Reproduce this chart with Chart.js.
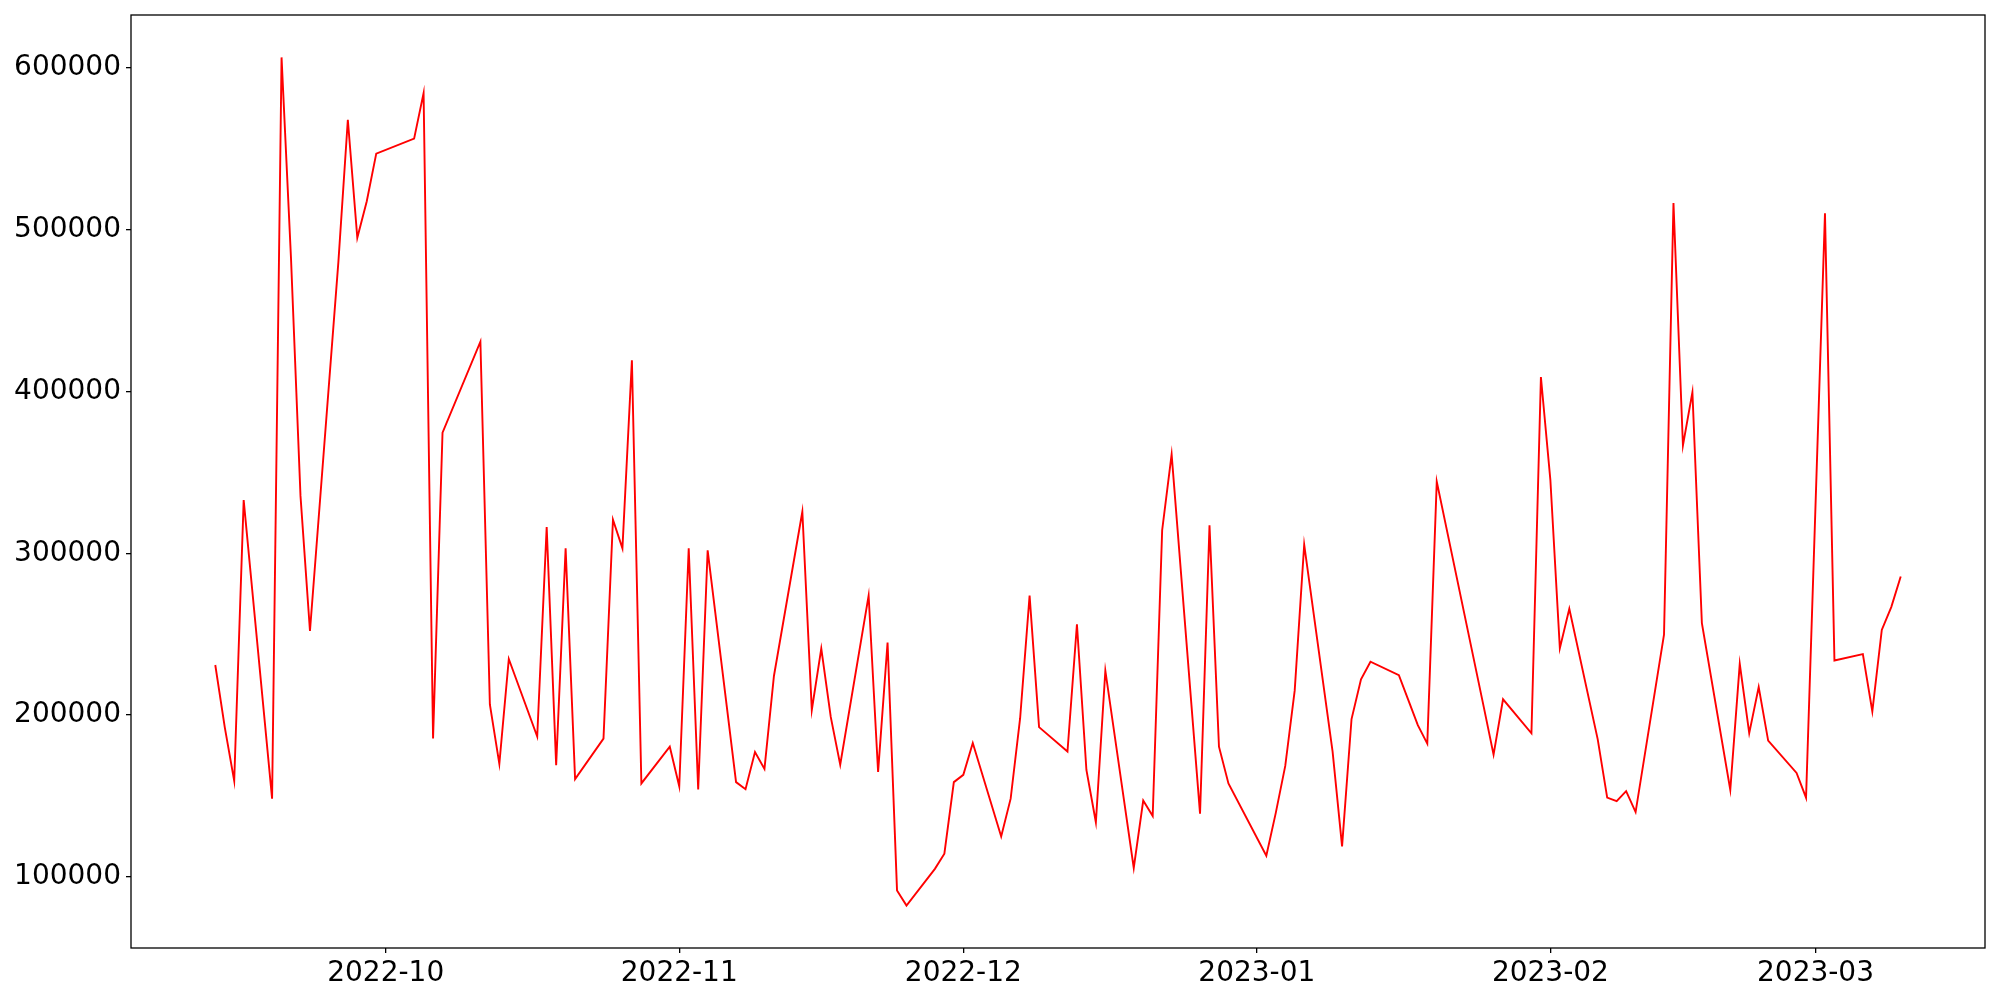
<!DOCTYPE html>
<html>
<head>
<script src="https://cdn.jsdelivr.net/npm/chart.js@4.4.1/dist/chart.umd.min.js"></script>
<style>
  body { margin: 0; background: #fff; }
  .chartBox { width: 2000px; height: 1000px; }
</style>
</head>
<body>
<div class="chartBox">
  <canvas id="myChart" width="2000" height="1000"></canvas>
</div>
<script>
const dates = [
  '2022-09-13','2022-09-14','2022-09-15','2022-09-16','2022-09-19','2022-09-20','2022-09-21','2022-09-22','2022-09-23',
  '2022-09-26','2022-09-27','2022-09-28','2022-09-29','2022-09-30','2022-10-04','2022-10-05','2022-10-06','2022-10-07',
  '2022-10-11','2022-10-12','2022-10-13','2022-10-14','2022-10-17','2022-10-18','2022-10-19','2022-10-20','2022-10-21',
  '2022-10-24','2022-10-25','2022-10-26','2022-10-27','2022-10-28','2022-10-31','2022-11-01','2022-11-02','2022-11-03',
  '2022-11-04','2022-11-07','2022-11-08','2022-11-09','2022-11-10','2022-11-11','2022-11-14','2022-11-15','2022-11-16',
  '2022-11-17','2022-11-18','2022-11-21','2022-11-22','2022-11-23','2022-11-24','2022-11-25','2022-11-28','2022-11-29',
  '2022-11-30','2022-12-01','2022-12-02','2022-12-05','2022-12-06','2022-12-07','2022-12-08','2022-12-09','2022-12-12',
  '2022-12-13','2022-12-14','2022-12-15','2022-12-16','2022-12-19','2022-12-20','2022-12-21','2022-12-22','2022-12-23',
  '2022-12-26','2022-12-27','2022-12-28','2022-12-29','2023-01-02','2023-01-03','2023-01-04','2023-01-05','2023-01-06',
  '2023-01-09','2023-01-10','2023-01-11','2023-01-12','2023-01-13','2023-01-16','2023-01-17','2023-01-18','2023-01-19',
  '2023-01-20','2023-01-25','2023-01-26','2023-01-27','2023-01-30','2023-01-31','2023-02-01','2023-02-02','2023-02-03',
  '2023-02-06','2023-02-07','2023-02-08','2023-02-09','2023-02-10','2023-02-13','2023-02-14','2023-02-15','2023-02-16',
  '2023-02-17','2023-02-20','2023-02-21','2023-02-22','2023-02-23','2023-02-24','2023-02-27','2023-02-28','2023-03-02',
  '2023-03-03','2023-03-06','2023-03-07','2023-03-08','2023-03-09','2023-03-10'
];
const values = [
  231000,192600,159400,332900,148400,606500,482000,335500,252000,
  480000,568000,495000,517600,547000,556300,584400,185600,374600,
  430800,206600,169900,234700,186800,316300,169100,303100,160500,
  185500,320800,303100,419300,157800,180500,156000,303100,154000,
  301900,158600,154200,177200,166800,224200,325700,203200,241100,
  198900,169400,273900,164900,244900,91700,82300,105000,114400,
  158600,163100,182800,125000,148400,198100,273900,192600,177500,
  256200,166100,133800,227500,105600,147200,137600,314300,361200,
  139100,317300,180500,157800,113100,139600,168600,215300,305400,
  177500,118900,197600,222100,233000,224700,209300,193800,182400,
  344300,204000,175600,209800,188800,409000,345300,241300,265800,
  185000,149000,146900,153000,140100,249700,516500,366700,399600,
  256900,153800,231700,188900,217400,184300,164300,149000,510200,
  233800,237700,202300,252700,266800,285700
];
const monthTicks = ['2022-10','2022-11','2022-12','2023-01','2023-02','2023-03'];
const yTicks = [100000, 200000, 300000, 400000, 500000, 600000];

const DAY = 86400000;
const toDay = s => Date.parse(s) / DAY;
const points = dates.map((d, i) => ({x: toDay(d), y: values[i]}));

// matplotlib-style 5% margins
const xLo = points[0].x, xHi = points[points.length - 1].x;
const xPad = (xHi - xLo) * 0.05;
const yLo = Math.min(...values), yHi = Math.max(...values);
const yPad = (yHi - yLo) * 0.05;

const tickFont = {family: 'DejaVu Sans', size: 28};

const frame = {
  id: 'frame',
  afterDraw(chart) {
    const {ctx, chartArea: a} = chart;
    ctx.save();
    ctx.strokeStyle = '#000';
    ctx.lineWidth = 1.3;
    ctx.strokeRect(a.left, a.top, a.right - a.left, a.bottom - a.top);
    ctx.restore();
  }
};

new Chart(document.getElementById('myChart'), {
  type: 'line',
  data: {
    datasets: [{
      data: points,
      borderColor: '#ff0000',
      borderWidth: 1.9,
      pointRadius: 0,
      tension: 0,
      fill: false
    }]
  },
  options: {
    responsive: false,
    animation: false,
    layout: {padding: {left: 0, top: 15, right: 15, bottom: 0}},
    plugins: {legend: {display: false}, tooltip: {enabled: false}},
    scales: {
      x: {
        type: 'linear',
        min: xLo - xPad,
        max: xHi + xPad,
        afterBuildTicks(scale) {
          scale.ticks = monthTicks.map(m => ({value: toDay(m + '-01'), label: m}));
        },
        afterFit(scale) {
          scale.height = 52;
          scale.paddingLeft = 0;
          scale.paddingRight = 0;
        },
        ticks: {
          font: tickFont,
          color: '#000',
          padding: 4,
          maxRotation: 0,
          autoSkip: false,
          callback(v, i) { return monthTicks[i]; }
        },
        grid: {display: true, drawOnChartArea: false, drawTicks: true, tickLength: 5, color: '#000', lineWidth: 1.3},
        border: {display: false}
      },
      y: {
        type: 'linear',
        min: yLo - yPad,
        max: yHi + yPad,
        afterBuildTicks(scale) {
          scale.ticks = yTicks.map(v => ({value: v}));
        },
        afterFit(scale) {
          scale.width = 131;
          scale.paddingTop = 0;
          scale.paddingBottom = 0;
        },
        ticks: {
          font: tickFont,
          color: '#000',
          padding: 5,
          callback(v) { return String(v); }
        },
        grid: {display: true, drawOnChartArea: false, drawTicks: true, tickLength: 5, color: '#000', lineWidth: 1.3},
        border: {display: false}
      }
    }
  },
  plugins: [frame]
});
</script>
</body>
</html>
